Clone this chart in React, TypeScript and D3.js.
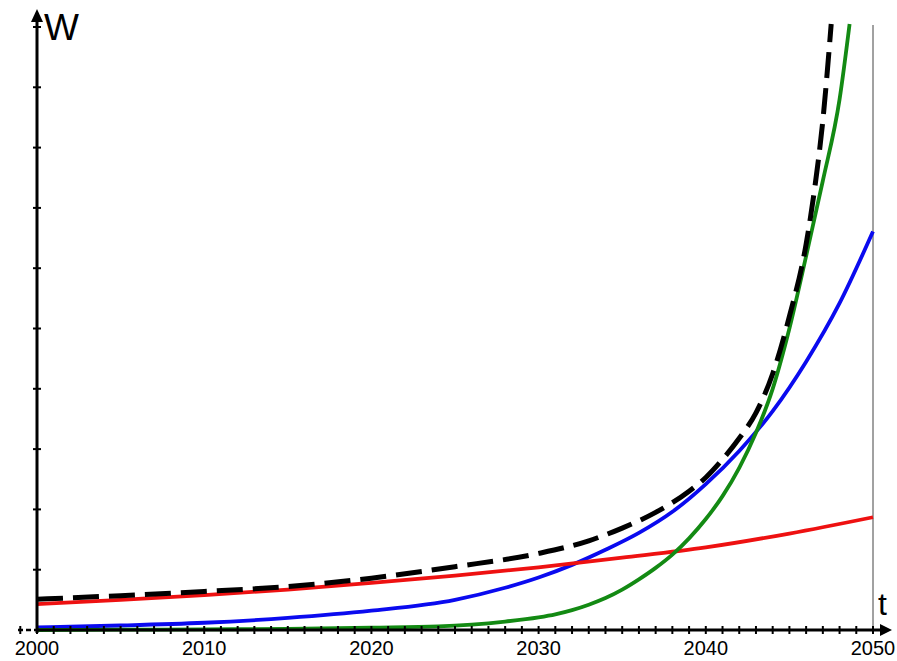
import { useEffect, useRef } from 'react';
import * as d3 from 'd3';

// Values (years, W in tick units)
const redYears = [2000, 2005, 2010, 2015, 2020, 2025, 2030, 2035, 2040, 2045, 2050];
const redValues = [0.43, 0.5, 0.58, 0.67, 0.78, 0.9, 1.04, 1.2, 1.37, 1.6, 1.87];

const blueYears = [2000, 2005, 2010, 2015, 2020, 2025, 2028, 2030, 2032, 2034, 2036, 2038, 2040, 2042, 2044, 2046, 2048, 2050];
const blueValues = [0.045, 0.075, 0.12, 0.2, 0.32, 0.5, 0.7, 0.87, 1.08, 1.33, 1.61, 1.96, 2.42, 2.97, 3.63, 4.45, 5.42, 6.61];

const greenYears = [2000, 2005, 2010, 2015, 2020, 2024, 2026, 2028, 2030, 2031, 2032, 2033, 2034, 2035, 2036, 2037, 2038, 2039, 2040, 2041, 2042, 2043, 2044, 2045, 2046, 2047, 2048, 2048.6];
const greenValues = [0, 0.005, 0.01, 0.02, 0.04, 0.06, 0.09, 0.14, 0.21, 0.26, 0.33, 0.42, 0.53, 0.67, 0.84, 1.03, 1.25, 1.52, 1.84, 2.22, 2.69, 3.27, 4.0, 5.0, 6.2, 7.45, 8.8, 10.05];

const blackYears = [2000, 2005, 2010, 2015, 2020, 2025, 2030, 2033, 2035, 2037, 2039, 2040, 2041, 2042, 2043, 2044, 2045, 2046, 2046.5, 2047, 2047.5];
const blackValues = [0.51, 0.57, 0.64, 0.72, 0.86, 1.05, 1.27, 1.48, 1.69, 1.95, 2.3, 2.53, 2.83, 3.18, 3.6, 4.25, 5.2, 6.4, 7.3, 8.45, 10.05];

const xTickLabels = [2000, 2010, 2020, 2030, 2040, 2050];
const yTicks = [1, 2, 3, 4, 5, 6, 7, 8, 9, 10];

export default function App() {
  const svgRef = useRef<SVGSVGElement>(null);

  useEffect(() => {
    if (!svgRef.current) return;
    const width = 897;
    const height = 661;

    const svg = d3.select(svgRef.current);
    svg.selectAll('*').remove();
    svg.attr('width', width).attr('height', height);

    svg.append('rect').attr('width', width).attr('height', height).attr('fill', '#fff');

    const x = d3.scaleLinear().domain([2000, 2050]).range([37, 873]);
    const y = d3.scaleLinear().domain([0, 10]).range([630, 27]);

    // thin right border line at 2050
    svg.append('line')
      .attr('x1', x(2050)).attr('x2', x(2050))
      .attr('y1', 25).attr('y2', 630)
      .attr('stroke', '#444').attr('stroke-width', 1);

    const line = d3.line<[number, number]>()
      .x(d => x(d[0]))
      .y(d => y(d[1]))
      .curve(d3.curveMonotoneX);

    const series = [
      { years: blueYears, values: blueValues, color: '#0a0aef', dash: null, w: 3.8 },
      { years: redYears, values: redValues, color: '#ee1111', dash: null, w: 3.8 },
      { years: greenYears, values: greenValues, color: '#138a13', dash: null, w: 3.8 },
      { years: blackYears, values: blackValues, color: '#000', dash: '26,10', w: 5 },
    ];

    series.forEach(s => {
      const pts = s.years.map((yr, i) => [yr, s.values[i]] as [number, number]);
      const p = svg.append('path')
        .attr('d', line(pts))
        .attr('fill', 'none')
        .attr('stroke', s.color)
        .attr('stroke-width', s.w);
      if (s.dash) p.attr('stroke-dasharray', s.dash);
    });

    // X axis
    svg.append('line')
      .attr('x1', 18).attr('x2', 37)
      .attr('y1', 630).attr('y2', 630)
      .attr('stroke', '#000').attr('stroke-width', 2.5)
      .attr('stroke-dasharray', '5,3');
    svg.append('line')
      .attr('x1', 37).attr('x2', 884)
      .attr('y1', 630).attr('y2', 630)
      .attr('stroke', '#000').attr('stroke-width', 3);
    svg.append('path')
      .attr('d', 'M880,624 L892,630 L880,636 Z')
      .attr('fill', '#000');

    const yearTicks = d3.range(1999, 2051);
    svg.selectAll('.xt')
      .data(yearTicks)
      .enter()
      .append('line')
      .attr('x1', d => x(d)).attr('x2', d => x(d))
      .attr('y1', 626).attr('y2', 634)
      .attr('stroke', '#000').attr('stroke-width', 2);

    svg.selectAll('.xl')
      .data(xTickLabels)
      .enter()
      .append('text')
      .attr('x', d => x(d))
      .attr('y', 655)
      .attr('text-anchor', 'middle')
      .attr('font-family', 'Liberation Sans, Arial, sans-serif')
      .attr('font-size', 20)
      .attr('fill', '#000')
      .text(d => d.toString());

    // Y axis
    svg.append('line')
      .attr('x1', 37).attr('x2', 37)
      .attr('y1', 18).attr('y2', 633)
      .attr('stroke', '#000').attr('stroke-width', 3);
    svg.append('path')
      .attr('d', 'M31,22 L37,9 L43,22 Z')
      .attr('fill', '#000');

    svg.selectAll('.yt')
      .data(yTicks)
      .enter()
      .append('line')
      .attr('x1', 33).attr('x2', 41)
      .attr('y1', d => y(d)).attr('y2', d => y(d))
      .attr('stroke', '#000').attr('stroke-width', 2);

    svg.append('text')
      .attr('x', 44).attr('y', 40)
      .attr('font-family', 'Liberation Sans, Arial, sans-serif')
      .attr('font-size', 37)
      .attr('fill', '#000')
      .text('W');

    svg.append('text')
      .attr('x', 878).attr('y', 615)
      .attr('font-family', 'Liberation Sans, Arial, sans-serif')
      .attr('font-size', 32)
      .attr('fill', '#000')
      .text('t');
  }, []);

  return (
    <svg
      ref={svgRef}
      style={{ position: 'absolute', left: 0, top: 0, display: 'block' }}
    />
  );
}
